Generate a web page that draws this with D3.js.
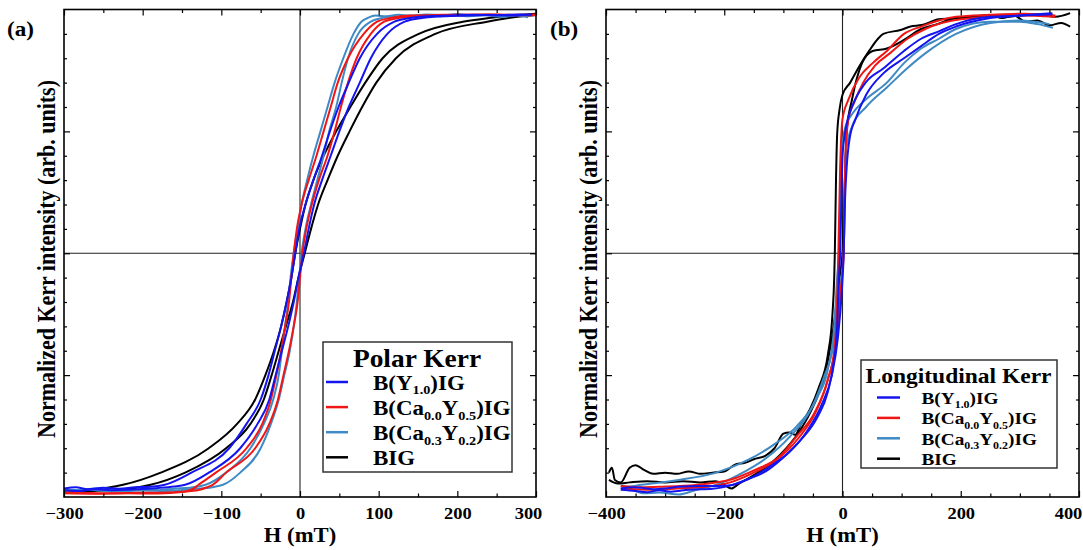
<!DOCTYPE html>
<html><head><meta charset="utf-8">
<script src="https://cdn.jsdelivr.net/npm/d3@7"></script>
<style>body{margin:0;background:#fff}</style>
</head><body>
<svg id="chart" width="1083" height="550"></svg>
<script>
// ---------------- DATA ----------------
const seriesNames = ["B(Y1.0)IG", "B(Ca0.0Y0.5)IG", "B(Ca0.3Y0.2)IG", "BIG"];
const seriesColors = ["#1414f0", "#f01616", "#3f8ac4", "#000000"];
const legendParts = [
  [["B(Y",0],["1.0",1],[")IG",0]],
  [["B(Ca",0],["0.0",1],["Y",0],["0.5",1],[")IG",0]],
  [["B(Ca",0],["0.3",1],["Y",0],["0.2",1],[")IG",0]],
  [["BIG",0]]
];
const xTicksPolar = [-300, -200, -100, 0, 100, 200, 300];
const xTicksLong = [-400, -200, 0, 200, 400];
const yMajorTicks = [-0.5, 0, 0.5];

// Polar Kerr loops: [H (mT), normalized intensity], two branches per sample
const polarBlueL = [[-300,-0.965],[-285,-0.96],[-270,-0.968],[-250,-0.962],[-230,-0.966],[-210,-0.96],[-190,-0.958],[-178,-0.954],[-172,-0.95],[-138,-0.9],[-90,-0.8],[-68,-0.7],[-50,-0.6],[-40,-0.5],[-32,-0.4],[-24,-0.3],[-17,-0.2],[-11,-0.1],[-6,0],[-1,0.1],[7,0.2],[17,0.3],[28,0.4],[38,0.5],[49,0.6],[62,0.7],[76,0.8],[98,0.9],[120,0.95],[140,0.965],[160,0.972],[190,0.975],[220,0.978],[250,0.976],[280,0.98],[295,0.978]];
const polarBlueR = [[-300,-0.972],[-280,-0.975],[-260,-0.968],[-240,-0.972],[-220,-0.97],[-200,-0.967],[-180,-0.963],[-160,-0.957],[-146,-0.95],[-116,-0.9],[-76,-0.8],[-54,-0.7],[-39,-0.6],[-31,-0.5],[-23,-0.4],[-15,-0.3],[-8,-0.2],[-2,-0.1],[5,0],[11,0.1],[18,0.2],[28,0.3],[39,0.4],[50,0.5],[62,0.6],[76,0.7],[90,0.8],[111,0.9],[133,0.95],[150,0.963],[170,0.97],[200,0.974],[240,0.977],[270,0.975],[295,0.98]];
const polarRedL = [[-300,-0.985],[-260,-0.987],[-220,-0.985],[-180,-0.986],[-150,-0.98],[-136,-0.967],[-129,-0.95],[-107,-0.9],[-68,-0.8],[-48,-0.7],[-37,-0.6],[-30,-0.5],[-24,-0.4],[-19,-0.3],[-14,-0.2],[-11,-0.1],[-8,0],[-4,0.1],[2,0.2],[11,0.3],[21,0.4],[30,0.5],[39,0.6],[48,0.7],[61,0.8],[81,0.9],[98,0.95],[115,0.965],[140,0.975],[180,0.978],[230,0.98],[270,0.978],[300,0.98]];
const polarRedR = [[-300,-0.982],[-250,-0.985],[-200,-0.983],[-160,-0.98],[-130,-0.972],[-118,-0.96],[-111,-0.95],[-94,-0.9],[-57,-0.8],[-39,-0.7],[-28,-0.6],[-21,-0.5],[-14,-0.4],[-8,-0.3],[-3,-0.2],[0,-0.1],[3,0],[8,0.1],[15,0.2],[24,0.3],[35,0.4],[44,0.5],[52,0.6],[61,0.7],[72,0.8],[90,0.9],[107,0.95],[125,0.965],[150,0.972],[200,0.976],[250,0.978],[300,0.976]];
const polarSteelL = [[-300,-0.968],[-280,-0.972],[-260,-0.965],[-240,-0.97],[-220,-0.975],[-200,-0.968],[-180,-0.972],[-160,-0.966],[-140,-0.962],[-126,-0.955],[-120,-0.95],[-94,-0.9],[-63,-0.8],[-46,-0.7],[-34,-0.6],[-27,-0.5],[-23,-0.4],[-19,-0.3],[-15,-0.2],[-12,-0.1],[-8,0],[-3,0.1],[2,0.2],[9,0.3],[17,0.4],[26,0.5],[35,0.6],[44,0.7],[55,0.8],[68,0.9],[78,0.95],[86,0.965],[96,0.975],[110,0.972],[125,0.978],[140,0.975],[160,0.98],[180,0.976],[200,0.982],[220,0.976],[240,0.98],[260,0.974],[280,0.978],[295,0.975]];
const polarSteelR = [[-300,-0.975],[-270,-0.97],[-240,-0.976],[-200,-0.973],[-170,-0.975],[-140,-0.968],[-115,-0.962],[-104,-0.955],[-98,-0.95],[-76,-0.9],[-50,-0.8],[-37,-0.7],[-27,-0.6],[-20,-0.5],[-13,-0.4],[-8,-0.3],[-4,-0.2],[-1,-0.1],[2,0],[7,0.1],[14,0.2],[22,0.3],[30,0.4],[37,0.5],[46,0.6],[53,0.7],[61,0.8],[74,0.9],[90,0.95],[100,0.962],[115,0.97],[135,0.968],[155,0.975],[175,0.972],[195,0.977],[215,0.972],[235,0.976],[255,0.97],[275,0.975],[290,0.968]];
const polarBlackL = [[-300,-0.976],[-270,-0.972],[-245,-0.962],[-225,-0.95],[-177,-0.9],[-116,-0.8],[-80,-0.7],[-57,-0.6],[-44,-0.5],[-33,-0.4],[-24,-0.3],[-17,-0.2],[-11,-0.1],[-6,0],[0,0.1],[7,0.2],[17,0.3],[30,0.4],[46,0.5],[64,0.6],[83,0.7],[105,0.8],[151,0.9],[207,0.95],[240,0.965],[270,0.975],[300,0.983]];
const polarBlackR = [[-300,-0.978],[-260,-0.975],[-225,-0.968],[-205,-0.96],[-190,-0.95],[-146,-0.9],[-94,-0.8],[-63,-0.7],[-46,-0.6],[-36,-0.5],[-27,-0.4],[-18,-0.3],[-9,-0.2],[-2,-0.1],[6,0],[14,0.1],[23,0.2],[35,0.3],[48,0.4],[63,0.5],[79,0.6],[97,0.7],[122,0.8],[172,0.9],[238,0.95],[265,0.965],[300,0.977]];

// Longitudinal Kerr loops
const longBlueL = [[-375,-0.965],[-355,-0.96],[-340,-0.962],[-320,-0.968],[-300,-0.965],[-277,-0.958],[-240,-0.955],[-210,-0.955],[-189,-0.952],[-160,-0.927],[-130,-0.895],[-101,-0.84],[-72,-0.77],[-42,-0.67],[-25,-0.57],[-15,-0.45],[-9,-0.3],[-6,-0.1],[-4,0],[-2,0.2],[0,0.4],[7,0.53],[16,0.6],[39,0.7],[70,0.76],[104,0.83],[133,0.88],[163,0.91],[192,0.94],[250,0.97],[300,0.975],[355,0.98]];
const longBlueR = [[-375,-0.97],[-350,-0.975],[-330,-0.98],[-310,-0.972],[-290,-0.978],[-260,-0.97],[-220,-0.966],[-180,-0.945],[-150,-0.915],[-120,-0.87],[-90,-0.815],[-60,-0.73],[-35,-0.62],[-18,-0.5],[-8,-0.35],[-1,-0.15],[2,0],[4,0.2],[7,0.35],[12,0.47],[22,0.55],[40,0.65],[70,0.74],[104,0.8],[133,0.85],[163,0.9],[192,0.93],[250,0.965],[300,0.975],[355,0.985]];
const longRedL = [[-375,-0.955],[-340,-0.96],[-306,-0.958],[-248,-0.951],[-183,-0.924],[-148,-0.889],[-107,-0.835],[-78,-0.752],[-48,-0.657],[-25,-0.52],[-14,-0.4],[-9,-0.2],[-7,0],[-4,0.35],[0,0.55],[10,0.63],[28,0.72],[51,0.78],[75,0.83],[104,0.9],[133,0.93],[192,0.97],[250,0.978],[309,0.983],[360,0.975]];
const longRedR = [[-375,-0.965],[-320,-0.97],[-280,-0.965],[-230,-0.958],[-190,-0.94],[-150,-0.9],[-110,-0.845],[-75,-0.76],[-45,-0.65],[-25,-0.52],[-10,-0.35],[-3,-0.15],[2,0],[5,0.4],[10,0.55],[20,0.62],[35,0.7],[55,0.77],[80,0.82],[110,0.88],[140,0.92],[200,0.96],[300,0.975],[360,0.97]];
const longSteelL = [[-375,-0.955],[-365,-0.958],[-340,-0.95],[-318,-0.944],[-277,-0.93],[-218,-0.903],[-160,-0.848],[-113,-0.78],[-78,-0.711],[-42,-0.588],[-25,-0.479],[-14,-0.3],[-9,-0.1],[-6,0],[-2,0.4],[5,0.52],[16,0.57],[39,0.63],[75,0.7],[104,0.78],[133,0.84],[163,0.88],[192,0.92],[250,0.95],[300,0.95],[330,0.94],[356,0.925]];
const longSteelR = [[-374,-0.951],[-355,-0.97],[-336,-0.985],[-310,-0.982],[-277,-0.99],[-248,-0.971],[-207,-0.944],[-171,-0.903],[-130,-0.842],[-89,-0.752],[-54,-0.643],[-31,-0.506],[-16,-0.383],[-5,-0.15],[2,0],[5,0.4],[16,0.52],[40,0.6],[75,0.68],[110,0.76],[140,0.82],[192,0.9],[250,0.945],[300,0.955],[350,0.94]];
const longBlackL = [[-395,-0.90],[-390,-0.88],[-385,-0.93],[-375,-0.94],[-360,-0.88],[-350,-0.87],[-335,-0.89],[-320,-0.905],[-300,-0.9],[-280,-0.905],[-260,-0.895],[-240,-0.905],[-220,-0.9],[-200,-0.895],[-180,-0.865],[-165,-0.86],[-150,-0.845],[-130,-0.83],[-115,-0.8],[-100,-0.74],[-90,-0.735],[-80,-0.745],[-70,-0.7],[-55,-0.64],[-40,-0.55],[-25,-0.42],[-17,-0.25],[-14,-0.1],[-13,0],[-11,0.3],[-9,0.49],[-5,0.59],[0,0.65],[13,0.7],[28,0.765],[45,0.83],[60,0.88],[69,0.9],[98,0.916],[115,0.93],[134,0.936],[163,0.96],[200,0.965],[250,0.977],[270,0.965],[290,0.975],[310,0.95],[330,0.955],[350,0.935],[370,0.945],[385,0.93]];
const longBlackR = [[-395,-0.93],[-380,-0.945],[-360,-0.94],[-330,-0.935],[-300,-0.94],[-270,-0.935],[-240,-0.94],[-215,-0.935],[-200,-0.95],[-188,-0.965],[-175,-0.945],[-150,-0.91],[-120,-0.86],[-95,-0.8],[-70,-0.72],[-50,-0.63],[-30,-0.5],[-15,-0.3],[-5,-0.1],[0,0],[4,0.3],[7,0.5],[16,0.63],[33,0.78],[51,0.83],[75,0.84],[104,0.875],[133,0.92],[160,0.94],[192,0.965],[220,0.97],[250,0.975],[280,0.97],[300,0.975],[330,0.98],[360,0.97],[385,0.985]];

// ---------------- DRAWING ----------------
const SX = 1.12;
const FONT = "'Liberation Serif','Times New Roman',Times,serif";
const svg = d3.select("#chart").style("font-family", FONT);
svg.append("rect").attr("width",1083).attr("height",550).attr("fill","#fff");

function drawPanel(cfg) {
  const x = d3.scaleLinear().domain(cfg.xDomain).range([cfg.left, cfg.right]);
  const y = d3.scaleLinear().domain([-1, 1]).range([cfg.bottom, cfg.top]);
  const g = svg.append("g");
  const clipId = "clip" + cfg.id;
  svg.append("clipPath").attr("id", clipId).append("rect")
    .attr("x", cfg.left).attr("y", cfg.top)
    .attr("width", cfg.right - cfg.left).attr("height", cfg.bottom - cfg.top);

  // zero lines
  g.append("line").attr("x1", x(0)).attr("x2", x(0)).attr("y1", cfg.top).attr("y2", cfg.bottom)
    .attr("stroke", "#222").attr("stroke-width", 1.1);
  g.append("line").attr("x1", cfg.left).attr("x2", cfg.right).attr("y1", y(0)).attr("y2", y(0))
    .attr("stroke", "#222").attr("stroke-width", 1.1);

  // curves (black first, blue on top)
  const line = d3.line().x(d => x(d[0])).y(d => y(d[1])).curve(d3.curveMonotoneX);
  const cg = g.append("g").attr("clip-path", `url(#${clipId})`);
  [3, 2, 1, 0].forEach(i => {
    cfg.branches[i].forEach(b => {
      cg.append("path").attr("d", line(b)).attr("fill", "none")
        .attr("stroke", seriesColors[i]).attr("stroke-width", 2)
        .attr("stroke-linejoin", "round");
    });
  });

  // axes ticks (inward)
  const minorX = d3.range(cfg.xDomain[0], cfg.xDomain[1] + 1, cfg.xMinor).filter(v => !cfg.xTicks.includes(v));
  const minorY = d3.range(-9, 10).map(v => v / 10).filter(v => !yMajorTicks.some(m => Math.abs(m - v) < 1e-6));
  const styleAxis = sel => {
    sel.select(".domain").remove();
    sel.selectAll(".tick line").attr("stroke", "#000").attr("stroke-width", 1.2);
  };
  const bottomMajor = g.append("g").attr("transform", `translate(0,${cfg.bottom})`)
    .call(d3.axisBottom(x).tickValues(cfg.xTicks).tickSize(-6).tickPadding(10).tickFormat(d3.format("d")))
    .call(styleAxis);
  bottomMajor.selectAll(".tick text")
    .attr("fill", "#000").attr("font-size", 16.5).attr("font-weight", "bold").attr("font-family", FONT)
    .attr("transform", (d, i) => (i === cfg.xTicks.length - 1 ? `translate(${cfg.lastShift},0) ` : "") + `scale(${SX},1)`);
  g.append("g").attr("transform", `translate(0,${cfg.bottom})`)
    .call(d3.axisBottom(x).tickValues(minorX).tickSize(-3.5).tickFormat("")).call(styleAxis);
  g.append("g").attr("transform", `translate(0,${cfg.top})`)
    .call(d3.axisTop(x).tickValues(cfg.xTicks).tickSize(-6).tickFormat("")).call(styleAxis);
  g.append("g").attr("transform", `translate(0,${cfg.top})`)
    .call(d3.axisTop(x).tickValues(minorX).tickSize(-3.5).tickFormat("")).call(styleAxis);
  g.append("g").attr("transform", `translate(${cfg.left},0)`)
    .call(d3.axisLeft(y).tickValues(yMajorTicks).tickSize(-6).tickFormat("")).call(styleAxis);
  g.append("g").attr("transform", `translate(${cfg.left},0)`)
    .call(d3.axisLeft(y).tickValues(minorY).tickSize(-3).tickFormat("")).call(styleAxis);
  g.append("g").attr("transform", `translate(${cfg.right},0)`)
    .call(d3.axisRight(y).tickValues(yMajorTicks).tickSize(-6).tickFormat("")).call(styleAxis);
  g.append("g").attr("transform", `translate(${cfg.right},0)`)
    .call(d3.axisRight(y).tickValues(minorY).tickSize(-3).tickFormat("")).call(styleAxis);

  // frame
  g.append("rect").attr("x", cfg.left).attr("y", cfg.top)
    .attr("width", cfg.right - cfg.left).attr("height", cfg.bottom - cfg.top)
    .attr("fill", "none").attr("stroke", "#000").attr("stroke-width", 1.6);

  // axis titles
  g.append("text").attr("transform", `translate(${(cfg.left + cfg.right) / 2},${542}) scale(1.08,1)`)
    .attr("text-anchor", "middle").attr("font-size", 21).attr("font-weight", "bold").text("H (mT)");
  g.append("text").attr("transform", `translate(${cfg.left - 9},${259}) rotate(-90) scale(1,1.15)`)
    .attr("text-anchor", "middle").attr("font-size", 22).attr("font-weight", "bold")
    .text("Normalized Kerr intensity (arb. units)");
  // panel letter
  g.append("text").attr("transform", `translate(${cfg.letterX},36) scale(1.1,1)`)
    .attr("font-size", 21).attr("font-weight", "bold").text(cfg.letter);

  // legend
  const L = cfg.legend;
  const lg = g.append("g");
  lg.append("rect").attr("x", L.x).attr("y", L.y).attr("width", L.w).attr("height", L.h)
    .attr("fill", "#fff").attr("stroke", "#333").attr("stroke-width", 1.5);
  lg.append("text").attr("transform", `translate(${L.titleX},${L.titleY}) scale(1.12,1)`)
    .attr("text-anchor", "middle").attr("font-size", L.titleSize).attr("font-weight", "bold").text(L.title);
  seriesNames.forEach((name, i) => {
    const ly = L.row0 + i * L.rowStep;
    lg.append("line").attr("x1", L.lx1).attr("x2", L.lx2).attr("y1", ly).attr("y2", ly)
      .attr("stroke", seriesColors[i]).attr("stroke-width", 2.5);
    const t = lg.append("text").attr("transform", `translate(${L.tx},${ly + L.textOff}) scale(1.12,1)`)
      .attr("font-size", L.textSize).attr("font-weight", "bold");
    const shift = L.textSize * 0.24;
    let prevSub = false;
    legendParts[i].forEach(([txt, sub]) => {
      const ts = t.append("tspan").text(txt);
      if (sub) { ts.attr("font-size", L.textSize * 0.62).attr("dy", shift); }
      else if (prevSub) { ts.attr("dy", -shift); }
      prevSub = !!sub;
    });
  });
}

drawPanel({
  id: "a", left: 64, right: 536, top: 9.5, bottom: 497, xDomain: [-300, 300], xTicks: xTicksPolar, xMinor: 50,
  lastShift: -8, letter: "(a)", letterX: 7,
  branches: [[polarBlueL, polarBlueR], [polarRedL, polarRedR], [polarSteelL, polarSteelR], [polarBlackL, polarBlackR]],
  legend: { x: 323, y: 342, w: 189, h: 130, title: "Polar Kerr", titleX: 417, titleY: 367, titleSize: 24.5,
            row0: 382, rowStep: 25.1, lx1: 326, lx2: 348, tx: 373, textOff: 7.5, textSize: 20.5 }
});
drawPanel({
  id: "b", left: 606, right: 1079, top: 9.5, bottom: 497, xDomain: [-400, 400], xTicks: xTicksLong, xMinor: 50,
  lastShift: -11, letter: "(b)", letterX: 550,
  branches: [[longBlueL, longBlueR], [longRedL, longRedR], [longSteelL, longSteelR], [longBlackL, longBlackR]],
  legend: { x: 861, y: 360, w: 196, h: 108, title: "Longitudinal Kerr", titleX: 958.5, titleY: 383, titleSize: 21,
            row0: 397.5, rowStep: 20.4, lx1: 877, lx2: 900, tx: 921.5, textOff: 6.5, textSize: 17.2 }
});
</script>
</body></html>
